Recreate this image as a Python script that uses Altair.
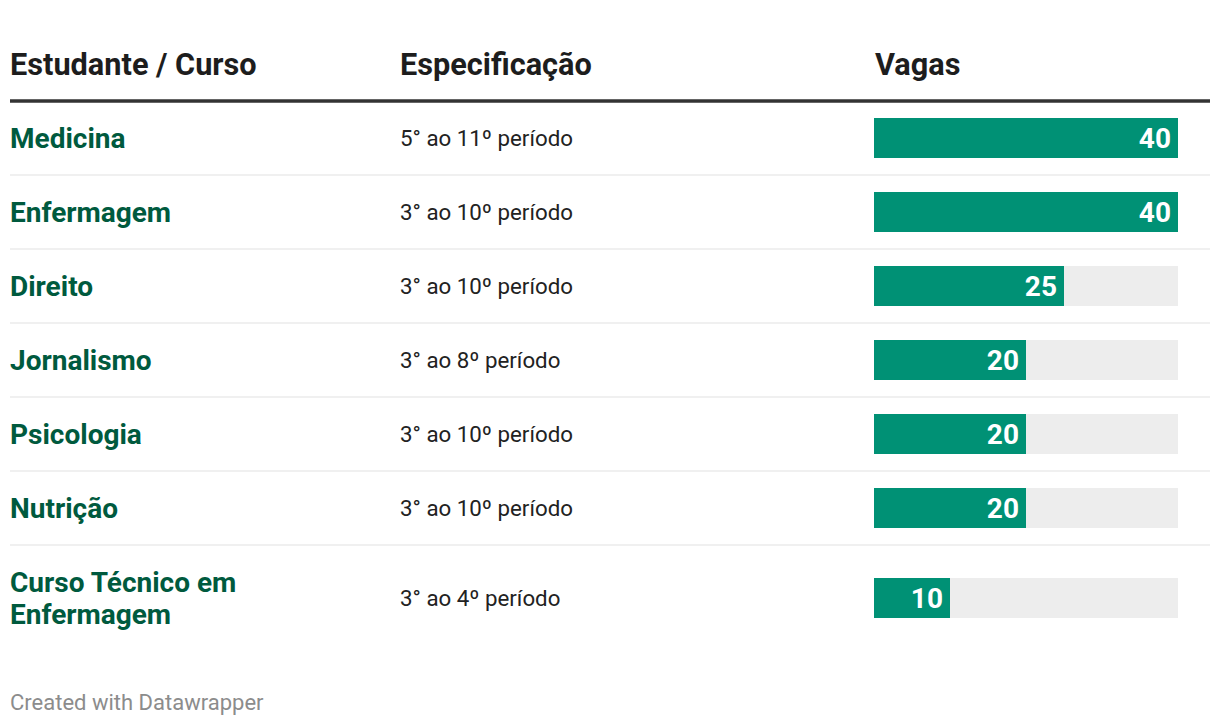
import altair as alt
import pandas as pd

cursos = ["Medicina", "Enfermagem", "Direito", "Jornalismo", "Psicologia", "Nutrição",
          "Curso Técnico em\nEnfermagem"]
especificacao = ["5° ao 11º período", "3° ao 10º período", "3° ao 10º período", "3° ao 8º período",
                 "3° ao 10º período", "3° ao 10º período", "3° ao 4º período"]
vagas = [40, 40, 25, 20, 20, 20, 10]
headers = ["Estudante / Curso", "Especificação", "Vagas"]
vagas_max = 40

FONT = "Roboto"
n = len(cursos)
rows = pd.DataFrame({
    "row": list(range(n)),
    "curso": cursos,
    "spec": especificacao,
    "vagas": vagas,
    "zero": [0] * n,
    "max": [vagas_max] * n,
})
seps = pd.DataFrame({"row": [i + 0.5 for i in range(n - 1)]})
hdr = pd.DataFrame({"row": [-1]})
hrule = pd.DataFrame({"row": [-0.5]})

yscale = alt.Scale(domain=[0, 6], range=[130, 574], padding=0, nice=False, zero=False)
Y = alt.Y("row:Q", scale=yscale, axis=None)
xscale = alt.Scale(domain=[0, vagas_max], range=[866, 1170], padding=0, nice=False)
last_off = alt.expr("datum.row == 6 ? 16 : 0")

base = alt.Chart(rows)

sep_layer = alt.Chart(seps).mark_rule(color="#ebebeb", strokeWidth=1.5).encode(
    y=Y, x=alt.value(2), x2=alt.value(1202))
hrule_layer = alt.Chart(hrule).mark_rule(color="#333333", strokeWidth=3.5).encode(
    y=Y, x=alt.value(2), x2=alt.value(1202))

hdr_layers = []
for txt, xp in zip(headers, [2, 392, 867]):
    hdr_layers.append(
        alt.Chart(hdr).mark_text(text=txt, font=FONT, fontSize=30.7, fontWeight="bold",
                                 color="#1d1d1d", align="left", baseline="middle", dy=2).encode(
            y=Y, x=alt.value(xp)))

curso_layer = base.transform_calculate(lab="split(datum.curso, '\\n')").mark_text(
    font=FONT, fontSize=28, fontWeight="bold", color="#005a3e", align="left",
    baseline="middle", lineHeight=32, dy=2).encode(
    y=Y, x=alt.value(2), text="lab:N")

spec_layer = base.mark_text(font=FONT, fontSize=22.3, color="#222222", align="left",
                            baseline="middle", dy=1, yOffset=last_off).encode(
    y=Y, x=alt.value(392), text="spec:N")

bg_layer = base.mark_bar(size=40, color="#ededed", yOffset=last_off).encode(
    y=Y, x=alt.X("zero:Q", scale=xscale, axis=None), x2="max:Q")
bar_layer = base.mark_bar(size=40, color="#009175", yOffset=last_off).encode(
    y=Y, x=alt.X("zero:Q", scale=xscale, axis=None), x2="vagas:Q")
val_layer = base.mark_text(font=FONT, fontSize=28, fontWeight="bold", color="white",
                           align="right", baseline="middle", dx=-7, dy=2, yOffset=last_off).encode(
    y=Y, x=alt.X("vagas:Q", scale=xscale, axis=None), text="vagas:Q")

footer = alt.Chart(hdr).mark_text(text="Created with Datawrapper", font=FONT, fontSize=22,
                                  color="#8c8c8c", align="left", baseline="middle").encode(
    x=alt.value(2), y=alt.value(695))

chart = alt.layer(sep_layer, hrule_layer, *hdr_layers, curso_layer, spec_layer,
                  bg_layer, bar_layer, val_layer, footer).properties(
    width=1204, height=710,
    autosize=alt.AutoSizeParams(type="none"),
    padding=0,
).configure(background="white").configure_view(stroke=None)

chart.save("out.html", embed_options={"renderer": "svg", "actions": False})
